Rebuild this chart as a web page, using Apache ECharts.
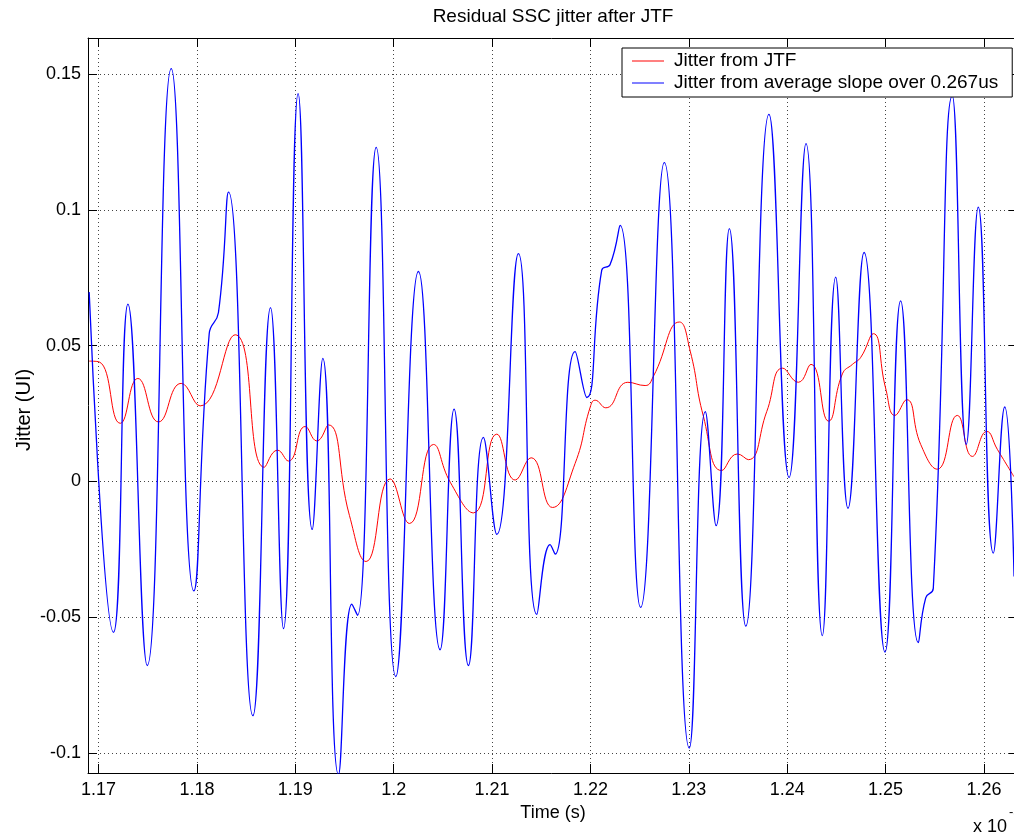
<!DOCTYPE html>
<html><head><meta charset="utf-8">
<script src="https://cdn.jsdelivr.net/npm/echarts@6/dist/echarts.min.js"></script>
<style>html,body{margin:0;padding:0;background:#fff}#c{width:1014px;height:834px}</style>
</head><body><div id="c"></div>
<script>
// Time in units of 1e-5 s
const xTickValues = [1.17, 1.18, 1.19, 1.20, 1.21, 1.22, 1.23, 1.24, 1.25, 1.26];
const xTickLabels = ['1.17','1.18','1.19','1.2','1.21','1.22','1.23','1.24','1.25','1.26'];
const yTickValues = [-0.1, -0.05, 0, 0.05, 0.1, 0.15];
const yTickLabels = ['-0.1','-0.05','0','0.05','0.1','0.15'];

const redTime = [1.16905,1.17007,1.17221,1.17400,1.17610,1.17840,1.18033,1.18389,1.18684,1.18819,1.18931,1.19100,1.19219,1.19337,1.19550,1.19720,1.19964,1.20160,1.20405,1.20575,1.20811,1.21048,1.21235,1.21397,1.21614,1.21844,1.21998,1.22048,1.22156,1.22380,1.22556,1.22640,1.22904,1.23014,1.23148,1.23334,1.23494,1.23605,1.23792,1.23955,1.24113,1.24242,1.24420,1.24561,1.24663,1.24748,1.24876,1.25000,1.25095,1.25214,1.25357,1.25526,1.25729,1.25882,1.26028,1.26136,1.26306];
const redJitter = [0.0443,0.0440,0.0214,0.0379,0.0219,0.0361,0.0278,0.0540,0.0052,0.0115,0.0075,0.0202,0.0149,0.0208,-0.0125,-0.0295,0.0009,-0.0155,0.0136,-0.0003,-0.0116,0.0174,0.0005,0.0087,-0.0096,0.0066,0.0274,0.0299,0.0271,0.0365,0.0353,0.0387,0.0587,0.0480,0.0240,0.0040,0.0101,0.0080,0.0257,0.0417,0.0365,0.0431,0.0222,0.0396,0.0431,0.0457,0.0544,0.0344,0.0243,0.0301,0.0136,0.0045,0.0243,0.0092,0.0184,0.0118,0.0017];

const blueTime = [1.16905,1.17152,1.17299,1.17495,1.17739,1.17969,1.18125,1.18219,1.18321,1.18569,1.18748,1.18880,1.19029,1.19172,1.19280,1.19439,1.19575,1.19632,1.19822,1.20022,1.20252,1.20472,1.20614,1.20760,1.20912,1.21048,1.21268,1.21455,1.21590,1.21641,1.21844,1.21963,1.22115,1.22200,1.22301,1.22510,1.22751,1.23005,1.23168,1.23277,1.23412,1.23579,1.23815,1.24019,1.24191,1.24357,1.24493,1.24618,1.24781,1.24994,1.25153,1.25333,1.25408,1.25485,1.25678,1.25820,1.25942,1.26095,1.26211,1.26306];
const blueJitter = [0.0697,-0.0556,0.0653,-0.0678,0.1520,-0.0403,0.0544,0.0622,0.1065,-0.0863,0.0640,-0.0542,0.1428,-0.0177,0.0453,-0.1080,-0.0452,-0.0493,0.1230,-0.0719,0.0773,-0.0620,0.0266,-0.0678,0.0162,-0.0195,0.0839,-0.0490,-0.0233,-0.0268,0.0478,0.0309,0.0778,0.0799,0.0943,-0.0464,0.1174,-0.0982,0.0257,-0.0163,0.0931,-0.0533,0.1352,0.0014,0.1244,-0.0568,0.0752,-0.0099,0.0843,-0.0629,0.0665,-0.0594,-0.0429,-0.0394,0.1420,0.0136,0.1010,-0.0264,0.0274,-0.0350];

const FONT = "'Liberation Sans', Arial, Helvetica, sans-serif";
const X_MIN = 1.16893, X_MAX = 1.26346, Y_MIN = -0.1074, Y_MAX = 0.1633;

function lab(vals, labels) {
  return function (v) {
    for (let i = 0; i < vals.length; i++) if (Math.abs(vals[i] - v) < 1e-7) return labels[i];
    return '';
  };
}
const zip = (a, b) => a.map((v, i) => [v, b[i]]);

const chart = echarts.init(document.getElementById('c'), null, {renderer: 'canvas'});
const axisLine = {show: true, onZero: false, lineStyle: {color: '#000', width: 1}};
const gridLine = {show: true, lineStyle: {color: '#444', width: 1, type: [1, 3]}};
chart.setOption({
  animation: false,
  backgroundColor: '#fff',
  grid: {left: 88, top: 38, width: 930, height: 735, containLabel: false, outerBoundsMode: 'none'},
  xAxis: [{
    type: 'value', position: 'bottom', min: X_MIN, max: X_MAX,
    axisLine: axisLine,
    axisTick: {show: true, inside: true, length: 9, customValues: xTickValues, lineStyle: {color: '#000'}},
    axisLabel: {show: true, customValues: xTickValues, formatter: lab(xTickValues, xTickLabels), margin: 8,
      color: '#000', fontSize: 18, fontFamily: FONT},
    splitLine: gridLine,
    name: 'Time (s)', nameLocation: 'middle', nameGap: 30,
    nameTextStyle: {color: '#000', fontSize: 18, fontFamily: FONT}
  }, {
    type: 'value', position: 'top', min: X_MIN, max: X_MAX,
    axisLine: axisLine,
    axisTick: {show: true, inside: true, length: 9, customValues: xTickValues, lineStyle: {color: '#000'}},
    axisLabel: {show: false}, splitLine: {show: false}
  }],
  yAxis: [{
    type: 'value', position: 'left', min: Y_MIN, max: Y_MAX,
    axisLine: axisLine,
    axisTick: {show: true, inside: true, length: 9, customValues: yTickValues, lineStyle: {color: '#000'}},
    axisLabel: {show: true, customValues: yTickValues, formatter: lab(yTickValues, yTickLabels), margin: 7,
      color: '#000', fontSize: 18, fontFamily: FONT},
    splitLine: gridLine
  }, {
    type: 'value', position: 'right', min: Y_MIN, max: Y_MAX,
    axisLine: axisLine,
    axisTick: {show: true, inside: true, length: 9, customValues: yTickValues, lineStyle: {color: '#000'}},
    axisLabel: {show: false}, splitLine: {show: false}
  }],
  legend: {
    orient: 'vertical', left: 622, top: 48,
    padding: [2, 14, 3, 10], itemGap: 0, itemWidth: 32, itemHeight: 1,
    backgroundColor: '#fff', borderColor: '#000', borderWidth: 1, borderRadius: 0,
    textStyle: {fontFamily: FONT, fontSize: 19, color: '#000', lineHeight: 22, padding: [0, 0, 0, 5]},
    data: [{name: 'Jitter from JTF', icon: 'rect'}, {name: 'Jitter from average slope over 0.267us', icon: 'rect'}]
  },
  graphic: [
    {type: 'text', x: 553, y: 17, style: {text: 'Residual SSC jitter after JTF', font: '19px ' + FONT, fill: '#000', textAlign: 'center', textVerticalAlign: 'middle'}},
    {type: 'text', x: 24, y: 410, rotation: Math.PI / 2, style: {text: 'Jitter (UI)', font: '20px ' + FONT, fill: '#000', textAlign: 'center', textVerticalAlign: 'middle'}},
    {type: 'text', x: 973, y: 827, style: {text: 'x 10', font: '18px ' + FONT, fill: '#000', textAlign: 'left', textVerticalAlign: 'middle'}},
    {type: 'text', x: 1009, y: 812, style: {text: '-5', font: '13px ' + FONT, fill: '#000', textAlign: 'left', textVerticalAlign: 'middle'}}
  ],
  series: [{
    name: 'Jitter from JTF', type: 'line', xAxisIndex: 0, yAxisIndex: 0,
    data: zip(redTime, redJitter), smooth: 0.5, symbol: 'none',
    lineStyle: {color: '#ff0000', width: 1}, itemStyle: {color: '#ff0000'}
  }, {
    name: 'Jitter from average slope over 0.267us', type: 'line', xAxisIndex: 0, yAxisIndex: 0,
    data: zip(blueTime, blueJitter), smooth: 0.5, symbol: 'none',
    lineStyle: {color: '#0000ff', width: 1.3}, itemStyle: {color: '#0000ff'}
  }]
});
</script></body></html>
